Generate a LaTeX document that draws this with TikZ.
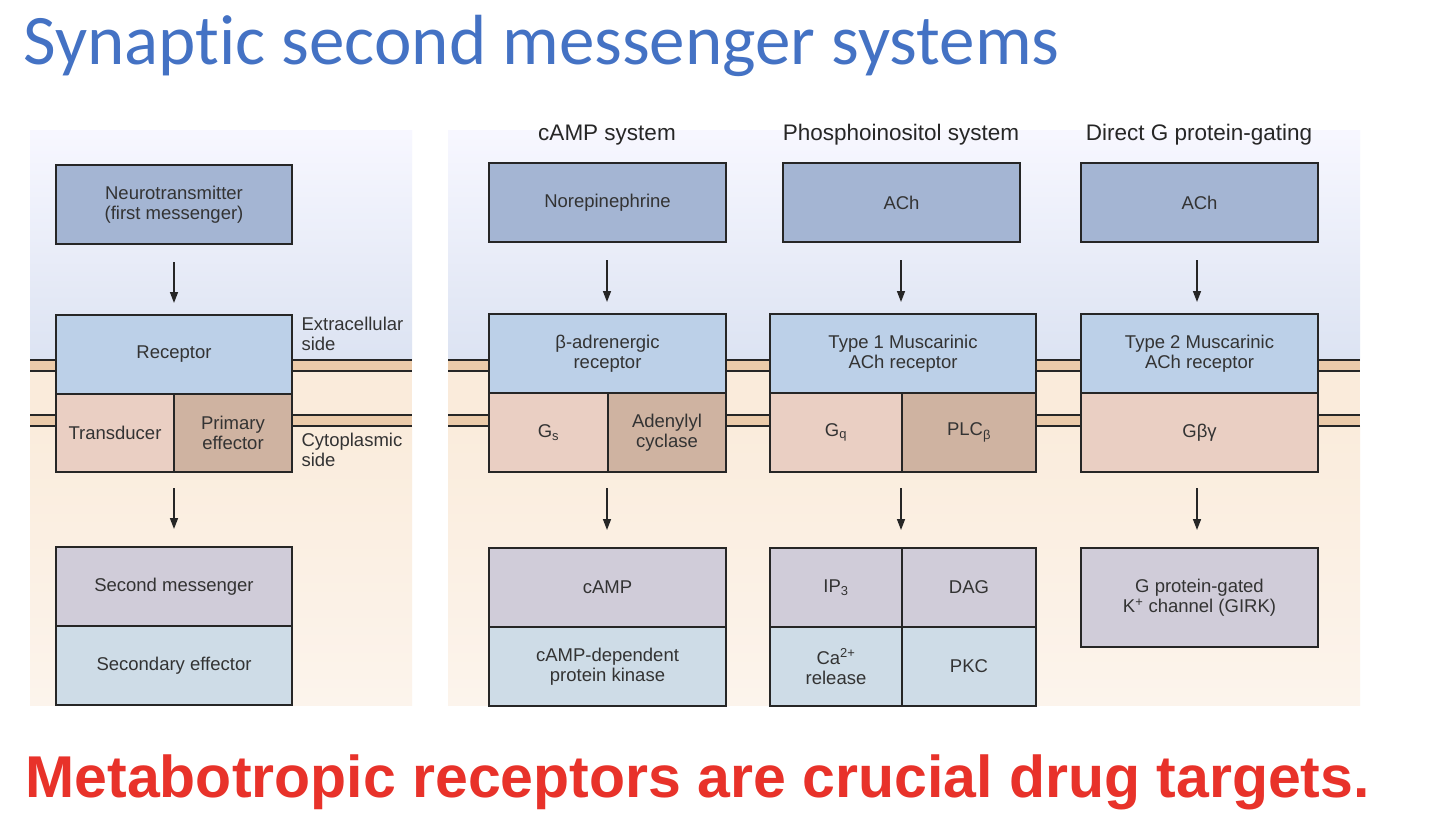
\documentclass[tikz,border=0pt]{standalone}
\usepackage{fontspec}
\setmainfont{Liberation Sans}
\newfontfamily\titlefont{Carlito}[Ligatures=NoCommon]
\usetikzlibrary{arrows.meta}
\definecolor{topb}{HTML}{A4B5D3}
\definecolor{recb}{HTML}{BCD0E8}
\definecolor{trb}{HTML}{EACFC3}
\definecolor{peb}{HTML}{CFB3A1}
\definecolor{smb}{HTML}{D0CCD9}
\definecolor{seb}{HTML}{CEDCE7}
\definecolor{memb}{HTML}{EBCBAA}
\definecolor{inner}{HTML}{FAEBDB}
\definecolor{titleblue}{HTML}{4472C4}
\definecolor{red1}{HTML}{E8322A}
\begin{document}
\begin{tikzpicture}[x=1pt,y=-1pt,
 bx/.style={draw=black!85,line width=1.3pt,align=center,font=\fontsize{18.5}{20}\selectfont,text=black!80},
 ar/.style={-{Triangle[length=11pt,width=8pt]},line width=1.5pt,black!85},
 hd/.style={font=\fontsize{22.5}{24}\selectfont,text=black!85}]
\useasboundingbox (0,0) rectangle (1430,836);
\fill[white] (0,0) rectangle (1430,836);
% backgrounds
\foreach \a/\b in {30/412,448/1360}{
 \shade[top color=blue!3!white,bottom color={rgb,255:red,220;green,227;blue,242}] (\a,130) rectangle (\b,360);
 \fill[inner] (\a,360) rectangle (\b,426);
 \shade[top color={rgb,255:red,250;green,236;blue,220},bottom color={rgb,255:red,252;green,244;blue,236}] (\a,426) rectangle (\b,705);
 \fill[memb] (\a,360) rectangle (\b,371);
 \fill[memb] (\a,415) rectangle (\b,426);
 \foreach \y in {360,371,415,426} \draw[line width=1.3pt,black!85] (\a,\y)--(\b,\y);
}
\node[anchor=west,font=\titlefont\fontsize{71}{76}\selectfont,text=titleblue] (title) at (20,46) {Synaptic second messenger systems};
% left
\node[bx,fill=topb,minimum width=236pt,minimum height=79pt] (n1) at (174,204.5) {Neurotransmitter\\(first messenger)};
\node[bx,fill=recb,minimum width=236pt,minimum height=79pt] (r1) at (174,354.5) {Receptor};
\node[bx,fill=trb,minimum width=118pt,minimum height=78pt] (t1) at (115,433) {Transducer};
\node[bx,fill=peb,minimum width=118pt,minimum height=78pt] (p1) at (233,433) {Primary\\effector};
\node[bx,fill=smb,minimum width=236pt,minimum height=79pt] (s1) at (174,586.5) {Second messenger};
\node[bx,fill=seb,minimum width=236pt,minimum height=79pt] (e1) at (174,665.5) {Secondary effector};
\node[anchor=north west,align=left,font=\fontsize{18.5}{20}\selectfont,text=black!80] (ex) at (298,314) {Extracellular\\side};
\node[anchor=north west,align=left,font=\fontsize{18.5}{20}\selectfont,text=black!80] (cy) at (298,430) {Cytoplasmic\\side};
\coordinate (a1) at (174,262); \coordinate (b1) at (174,303);
\coordinate (a2) at (174,488); \coordinate (b2) at (174,529);
\draw[ar] (a1)--(b1); \draw[ar] (a2)--(b2);
% cAMP
\node[hd] (h2) at (607,135) {cAMP system};
\node[bx,fill=topb,minimum width=237pt,minimum height=79pt] (n2) at (607.5,202.5) {Norepinephrine};
\node[bx,fill=recb,minimum width=237pt,minimum height=79pt] (r2) at (607.5,353.5) {β-adrenergic\\receptor};
\node[bx,fill=trb,minimum width=119pt,minimum height=79pt] (t2) at (548.5,432.5) {G\textsubscript{s}};
\node[bx,fill=peb,minimum width=118pt,minimum height=79pt] (p2) at (667,432.5) {Adenylyl\\cyclase};
\node[bx,fill=smb,minimum width=237pt,minimum height=79pt] (s2) at (607.5,587.5) {cAMP};
\node[bx,fill=seb,minimum width=237pt,minimum height=79pt] (e2) at (607.5,666.5) {cAMP-dependent\\protein kinase};
\coordinate (a3) at (607,260); \coordinate (b3) at (607,302);
\coordinate (a4) at (607,488); \coordinate (b4) at (607,530);
\draw[ar] (a3)--(b3); \draw[ar] (a4)--(b4);
% Phospho
\node[hd] (h3) at (901,135) {Phosphoinositol system};
\node[bx,fill=topb,minimum width=237pt,minimum height=79pt] (n3) at (901.5,202.5) {ACh};
\node[bx,fill=recb,minimum width=266pt,minimum height=79pt] (r3) at (903,353.5) {Type 1 Muscarinic\\ACh receptor};
\node[bx,fill=trb,minimum width=132pt,minimum height=79pt] (t3) at (836,432.5) {G\textsubscript{q}};
\node[bx,fill=peb,minimum width=134pt,minimum height=79pt] (p3) at (969,432.5) {PLC\textsubscript{β}};
\node[bx,fill=smb,minimum width=132pt,minimum height=79pt] (s3) at (836,587.5) {IP\textsubscript{3}};
\node[bx,fill=smb,minimum width=134pt,minimum height=79pt] (d3) at (969,587.5) {DAG};
\node[bx,fill=seb,minimum width=132pt,minimum height=79pt] (e3) at (836,666.5) {Ca\textsuperscript{2+}\\release};
\node[bx,fill=seb,minimum width=134pt,minimum height=79pt] (k3) at (969,666.5) {PKC};
\coordinate (a5) at (901,260); \coordinate (b5) at (901,302);
\coordinate (a6) at (901,488); \coordinate (b6) at (901,530);
\draw[ar] (a5)--(b5); \draw[ar] (a6)--(b6);
% Direct
\node[hd] (h4) at (1199,135) {Direct G protein-gating};
\node[bx,fill=topb,minimum width=237pt,minimum height=79pt] (n4) at (1199.5,202.5) {ACh};
\node[bx,fill=recb,minimum width=237pt,minimum height=79pt] (r4) at (1199.5,353.5) {Type 2 Muscarinic\\ACh receptor};
\node[bx,fill=trb,minimum width=237pt,minimum height=79pt] (t4) at (1199.5,432.5) {Gβγ};
\node[bx,fill=smb,minimum width=237pt,minimum height=99pt] (s4) at (1199.5,597.5) {G protein-gated\\K\textsuperscript{+} channel (GIRK)};
\coordinate (a7) at (1197,260); \coordinate (b7) at (1197,302);
\coordinate (a8) at (1197,488); \coordinate (b8) at (1197,530);
\draw[ar] (a7)--(b7); \draw[ar] (a8)--(b8);
\node[anchor=west,font=\bfseries\fontsize{59}{64}\selectfont,text=red1] (msg) at (22,782) {Metabotropic receptors are crucial drug targets.};
\end{tikzpicture}
\end{document}
